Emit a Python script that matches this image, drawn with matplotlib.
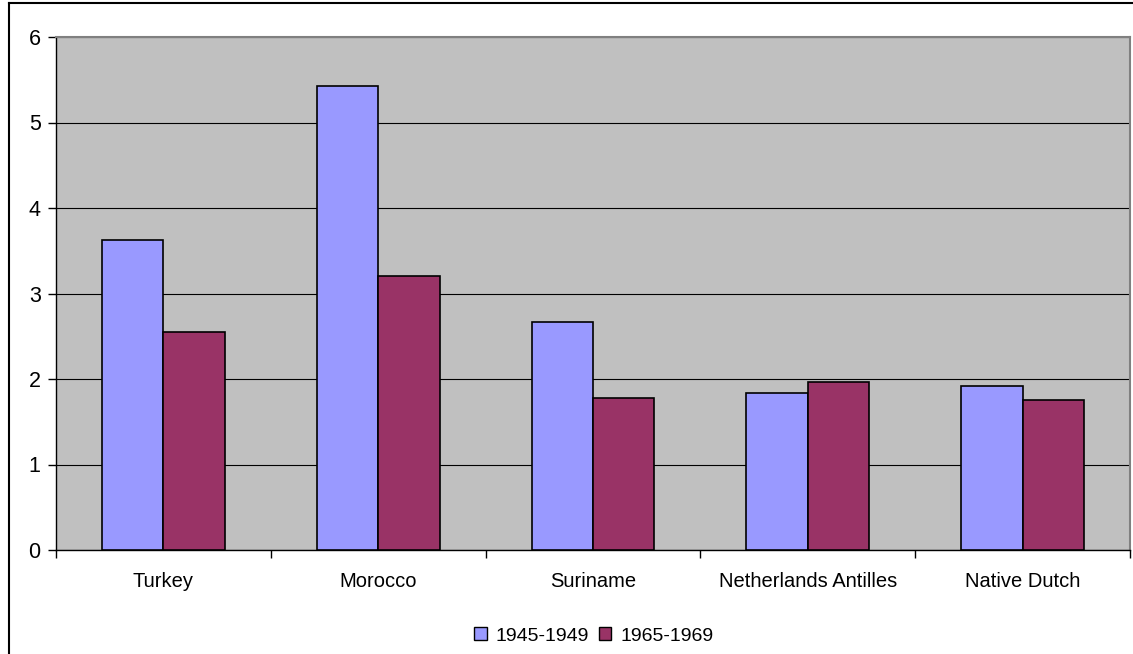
import matplotlib
matplotlib.use("Agg")
import matplotlib.pyplot as plt
import numpy as np
from matplotlib.patches import Patch
from matplotlib.lines import Line2D

plt.rcParams['font.family'] = ['Liberation Sans', 'DejaVu Sans']

categories = ["Turkey", "Morocco", "Suriname", "Netherlands Antilles", "Native Dutch"]
series_names = ["1945-1949", "1965-1969"]
values_1945 = [3.63, 5.43, 2.67, 1.84, 1.92]
values_1965 = [2.55, 3.21, 1.78, 1.97, 1.76]
y_ticks = [0, 1, 2, 3, 4, 5, 6]

blue = "#9999FF"
plum = "#993366"

fig = plt.figure(figsize=(11.33, 6.54), dpi=100)
ax = fig.add_axes([56 / 1133, 1 - 550 / 654, (1130 - 56) / 1133, (550 - 37) / 654])
ax.set_facecolor("#C0C0C0")

x = np.arange(len(categories))
w = 1 / 3.5
ax.bar(x - w / 2, values_1945, w, color=blue, edgecolor="black", linewidth=1.2, zorder=3)
ax.bar(x + w / 2, values_1965, w, color=plum, edgecolor="black", linewidth=1.2, zorder=3)

ax.set_xlim(-0.5, len(categories) - 0.5)
ax.set_ylim(0, 6)
ax.set_yticks(y_ticks)
ax.set_yticklabels([str(t) for t in y_ticks], fontsize=15.5)
ax.yaxis.grid(True, color="black", linewidth=0.8, zorder=1)
ax.set_axisbelow(True)

ax.set_xticks(x)
ax.set_xticklabels(categories, fontsize=14.5)
ax.tick_params(axis="x", length=0, pad=16)
ax.set_xticks(np.arange(len(categories) + 1) - 0.5, minor=True)
ax.tick_params(axis="x", which="minor", length=6, width=1, direction="out")
ax.tick_params(axis="y", length=6, width=1, direction="out", pad=5)

for side in ("left", "bottom"):
    ax.spines[side].set_color("black")
    ax.spines[side].set_linewidth(1)
for side in ("top", "right"):
    ax.spines[side].set_color("#808080")
    ax.spines[side].set_linewidth(1.5)

handles = [Patch(facecolor=blue, edgecolor="black", linewidth=1),
           Patch(facecolor=plum, edgecolor="black", linewidth=1)]
fig.legend(handles, series_names, loc="center", bbox_to_anchor=(0.524, 1 - 636 / 654),
           ncol=2, frameon=False, fontsize=14, handlelength=0.65, handleheight=0.65,
           handletextpad=0.45, columnspacing=0.5, borderpad=0)

# chart area frame
fig.add_artist(Line2D([9 / 1133, 9 / 1133], [0, 1 - 3 / 654], transform=fig.transFigure,
                      color="black", linewidth=1.5))
fig.add_artist(Line2D([9 / 1133, 1], [1 - 3 / 654, 1 - 3 / 654], transform=fig.transFigure,
                      color="black", linewidth=1.5))

fig.savefig("out.png", dpi=100)
